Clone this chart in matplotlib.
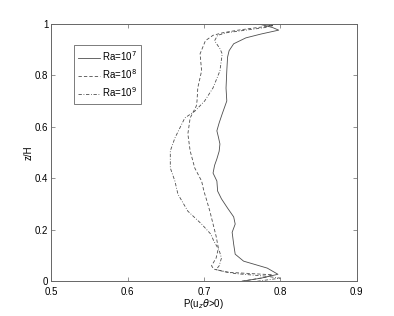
import numpy as np
import matplotlib.pyplot as plt

plt.rcParams['font.family'] = ['Liberation Sans', 'DejaVu Sans']

# Ra = 1e7 (solid)
z_ra7 = [0.0, 0.012, 0.027, 0.051, 0.078, 0.105, 0.144, 0.19, 0.222, 0.25, 0.284, 0.32, 0.35,
         0.389, 0.42, 0.45, 0.475, 0.505, 0.533, 0.56, 0.584, 0.615, 0.65, 0.70, 0.75, 0.817,
         0.87, 0.895, 0.922, 0.945, 0.96, 0.975, 0.985, 0.993, 1.0]
p_ra7 = [0.75, 0.775, 0.797, 0.783, 0.752, 0.741, 0.739, 0.737, 0.741, 0.739, 0.731, 0.723, 0.718,
         0.717, 0.712, 0.714, 0.717, 0.72, 0.721, 0.719, 0.717, 0.72, 0.724, 0.730, 0.729, 0.730,
         0.731, 0.733, 0.739, 0.755, 0.775, 0.798, 0.79, 0.78, 0.77]

# Ra = 1e8 (dashed)
z_ra8 = [0.0, 0.015, 0.025, 0.035, 0.047, 0.06, 0.09, 0.128, 0.175, 0.222, 0.27, 0.311, 0.35,
         0.389, 0.44, 0.506, 0.572, 0.634, 0.68, 0.70, 0.751, 0.817, 0.883, 0.934, 0.955, 0.965,
         0.975, 0.985, 0.992, 1.0]
p_ra8 = [0.75, 0.78, 0.79, 0.73, 0.713, 0.71, 0.716, 0.719, 0.716, 0.712, 0.708, 0.704, 0.70,
         0.697, 0.688, 0.682, 0.679, 0.682, 0.690, 0.691, 0.692, 0.697, 0.695, 0.702, 0.712, 0.725,
         0.745, 0.77, 0.79, 0.77]

# Ra = 1e9 (dash-dot)
z_ra9 = [0.0, 0.012, 0.02, 0.03, 0.045, 0.06, 0.09, 0.12, 0.156, 0.183, 0.222, 0.272, 0.338,
         0.389, 0.44, 0.506, 0.556, 0.634, 0.66, 0.70, 0.751, 0.817, 0.883, 0.903, 0.934, 0.955,
         0.965, 0.975, 0.985, 0.993, 1.0]
p_ra9 = [0.77, 0.80, 0.78, 0.74, 0.716, 0.72, 0.723, 0.72, 0.713, 0.709, 0.697, 0.679, 0.666,
         0.662, 0.656, 0.656, 0.662, 0.675, 0.688, 0.701, 0.712, 0.721, 0.724, 0.721, 0.714, 0.718,
         0.73, 0.755, 0.78, 0.79, 0.77]

labels = ['Ra=10$^7$', 'Ra=10$^8$', 'Ra=10$^9$']

fig = plt.figure(figsize=(3.94, 3.16), dpi=100)
ax = fig.add_axes([0.13, 0.11, 0.775, 0.815])

lc = '0.3'
ax.plot(p_ra7, z_ra7, color=lc, lw=0.6, ls='-', label=labels[0])
ax.plot(p_ra8, z_ra8, color=lc, lw=0.6, ls=(0, (4, 2.5)), label=labels[1])
ax.plot(p_ra9, z_ra9, color=lc, lw=0.6, ls=(0, (4, 2, 1, 2)), label=labels[2])

ax.set_xlim(0.5, 0.9)
ax.set_ylim(0, 1)
ax.set_xticks([0.5, 0.6, 0.7, 0.8, 0.9])
ax.set_yticks([0, 0.2, 0.4, 0.6, 0.8, 1])
ax.set_xticklabels(['0.5', '0.6', '0.7', '0.8', '0.9'])
ax.set_yticklabels(['0', '0.2', '0.4', '0.6', '0.8', '1'])
ax.tick_params(direction='in', top=True, right=True, labelsize=7, length=3,
               width=0.5, color='0.4')
ax.tick_params(axis='y', pad=2)
ax.tick_params(axis='x', pad=4)
for s in ax.spines.values():
    s.set_linewidth(0.7)
    s.set_color('0.4')

ax.set_xlabel(r'P(u$_z\theta$>0)', fontsize=7, labelpad=0)
ax.set_ylabel('z/H', fontsize=7, labelpad=1)

leg = ax.legend(loc='upper left', bbox_to_anchor=(0.074, 0.918), borderaxespad=0,
                fontsize=7, fancybox=False, framealpha=1, edgecolor='0.4',
                handlelength=2.2, handletextpad=0.2, borderpad=0.45, labelspacing=0.45)
leg.get_frame().set_linewidth(0.6)

fig.savefig('out.png', dpi=100)
